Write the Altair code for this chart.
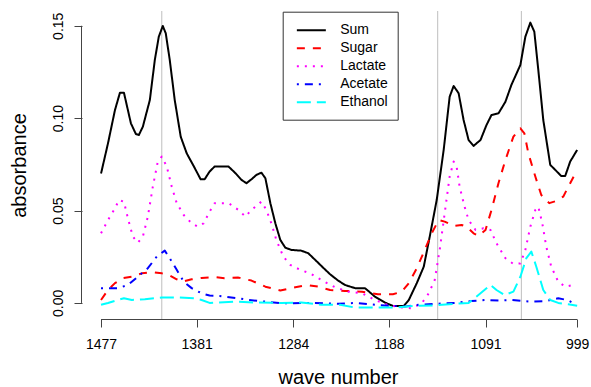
import altair as alt
import pandas as pd

# ---------------- data ----------------
series_names = ["Sum", "Sugar", "Lactate", "Acetate", "Ethanol"]
series_colors = ["#000000", "#FF0000", "#FF00FF", "#0000FF", "#00FFFF"]
series_dashes = [[1, 0], [8, 8], [2, 6], [2, 6, 8, 6], [14, 6]]

x_ticks = [1477, 1381, 1284, 1188, 1091, 999]
y_ticks = [0.00, 0.05, 0.10, 0.15]
marker_wn = [1416, 1139, 1055]

sum_wn = [1477, 1470, 1463, 1458, 1454, 1447, 1442, 1439, 1435, 1428, 1423, 1419,
          1415, 1412, 1408, 1403, 1397, 1391, 1384, 1377, 1373, 1368, 1363, 1358,
          1349, 1342, 1336, 1331, 1326, 1321, 1316, 1312, 1307, 1302, 1297, 1292,
          1286, 1276, 1269, 1262, 1255, 1247, 1239,
          1232, 1222, 1212, 1202, 1192, 1184, 1173, 1168, 1160, 1153, 1147, 1140,
          1133, 1127, 1123, 1118,
          1113, 1108, 1103, 1096, 1090, 1085, 1078, 1071, 1065, 1056, 1051, 1046,
          1042, 1038, 1033, 1026, 1021, 1015, 1011, 1006, 999]
sum_val = [0.0700, 0.0864, 0.1044, 0.1138, 0.1138, 0.0972, 0.0914, 0.0909, 0.0954, 0.1098, 0.1315, 0.1441,
           0.1499, 0.1459, 0.1315, 0.1098, 0.0900, 0.0810, 0.0741, 0.0669, 0.0669, 0.0711, 0.0738, 0.0738,
           0.0738, 0.0702, 0.0666, 0.0648, 0.0669, 0.0693, 0.0705, 0.0675, 0.0540, 0.0431, 0.0341, 0.0299,
           0.0287, 0.0283, 0.0269, 0.0233, 0.0196, 0.0155, 0.0121,
           0.0097, 0.0080, 0.0080, 0.0034, 0.0002, -0.0016, -0.0016, 0.0016, 0.0107, 0.0196, 0.0359, 0.0557,
           0.0828, 0.1116, 0.1174, 0.1135,
           0.0990, 0.0882, 0.0850, 0.0882, 0.0963, 0.1017, 0.1026, 0.1089, 0.1180, 0.1288, 0.1441, 0.1517,
           0.1468, 0.1261, 0.0990, 0.0747, 0.0720, 0.0687, 0.0687, 0.0765, 0.0828]

sugar_wn = [1477, 1470, 1463, 1455, 1446, 1436, 1426, 1416, 1409, 1401, 1395, 1386, 1376,
            1364, 1353, 1339, 1326, 1312, 1297, 1282, 1270, 1259, 1247, 1237, 1232,
            1215, 1199, 1184, 1175, 1168, 1160, 1152, 1145, 1138, 1132, 1123,
            1115, 1110, 1103, 1098, 1091, 1085, 1078, 1071, 1063, 1056, 1052, 1048, 1041,
            1035, 1027, 1020, 1013, 1006, 999]
sugar_val = [0.0016, 0.0070, 0.0107, 0.0134, 0.0142, 0.0160, 0.0166, 0.0160, 0.0152, 0.0128, 0.0115, 0.0128, 0.0135,
             0.0140, 0.0134, 0.0137, 0.0121, 0.0088, 0.0067, 0.0085, 0.0097, 0.0088, 0.0070, 0.0067, 0.0065,
             0.0061, 0.0047, 0.0047, 0.0061, 0.0107, 0.0188, 0.0287, 0.0377, 0.0449, 0.0440, 0.0417,
             0.0422, 0.0413, 0.0377, 0.0363, 0.0395, 0.0503, 0.0648, 0.0774, 0.0900, 0.0945, 0.0918, 0.0810, 0.0684,
             0.0584, 0.0540, 0.0552, 0.0575, 0.0648, 0.0720]

lactate_wn = [1477, 1470, 1463, 1459, 1454, 1450, 1445, 1440, 1435, 1430, 1425, 1420, 1416, 1411,
              1406, 1401, 1394, 1386, 1380, 1374, 1368, 1363,
              1349, 1339, 1332, 1326, 1316, 1311, 1306, 1301, 1294, 1287, 1277, 1267, 1259, 1250, 1242,
              1229, 1215, 1202, 1189, 1175, 1165, 1155, 1148, 1142, 1137, 1132, 1127, 1123,
              1120, 1117, 1112, 1108, 1101, 1093, 1086, 1080, 1071, 1063, 1056, 1051, 1046, 1041,
              1038, 1034, 1030, 1025, 1018, 1011, 1003]
lactate_val = [0.0377, 0.0449, 0.0512, 0.0557, 0.0548, 0.0458, 0.0359, 0.0326, 0.0359, 0.0467, 0.0629, 0.0765, 0.0792, 0.0738,
               0.0629, 0.0540, 0.0476, 0.0431, 0.0413, 0.0431, 0.0494, 0.0540,
               0.0540, 0.0503, 0.0467, 0.0503, 0.0548, 0.0503, 0.0431, 0.0341, 0.0251, 0.0206, 0.0179, 0.0160, 0.0134, 0.0107, 0.0085,
               0.0061, 0.0052, 0.0016, -0.0011, -0.0025, -0.0029, -0.0002, 0.0052, 0.0124, 0.0287, 0.0485, 0.0684, 0.0765,
               0.0738, 0.0629, 0.0521, 0.0449, 0.0395, 0.0404, 0.0395, 0.0323, 0.0242, 0.0211, 0.0214, 0.0287, 0.0413, 0.0503,
               0.0521, 0.0431, 0.0305, 0.0196, 0.0115, 0.0088, 0.0097]

acetate_wn = [1477, 1460, 1450, 1440, 1430, 1421, 1413, 1408, 1401, 1394,
              1386, 1376, 1368, 1358, 1339, 1329, 1312, 1296, 1262, 1239,
              1222, 1202, 1184, 1172, 1158, 1142, 1122, 1105, 1091, 1078,
              1065, 1045, 1031, 1018, 1009, 1003]
acetate_val = [0.0080, 0.0080, 0.0097, 0.0142, 0.0188, 0.0251, 0.0283, 0.0242, 0.0179, 0.0115,
               0.0080, 0.0052, 0.0040, 0.0038, 0.0025, 0.0016, 0.0007, -0.0002, 0.0000, -0.0005,
               0.0000, -0.0010, -0.0016, -0.0020, -0.0010, -0.0005, 0.0000, 0.0010, 0.0016, 0.0013,
               0.0016, 0.0007, 0.0010, 0.0025, 0.0016, 0.0000]

ethanol_wn = [1477, 1470, 1460, 1454, 1446, 1433, 1416, 1399, 1383, 1376,
              1368, 1342, 1322, 1296, 1276, 1256, 1237, 1222, 1182, 1162,
              1142, 1122, 1108, 1096, 1086, 1080, 1072, 1063, 1056, 1050,
              1045, 1040, 1033, 1026, 1018, 1008, 999]
ethanol_val = [-0.0010, 0.0000, 0.0016, 0.0025, 0.0016, 0.0020, 0.0029, 0.0029, 0.0025, 0.0016,
               0.0000, 0.0007, 0.0002, 0.0000, 0.0002, -0.0010, -0.0010, -0.0025, -0.0025, -0.0016,
               -0.0013, -0.0005, 0.0000, 0.0052, 0.0097, 0.0070, 0.0043, 0.0061, 0.0142, 0.0242,
               0.0278, 0.0196, 0.0070, 0.0016, 0.0000, -0.0007, -0.0015]

# ---------------- build tables ----------------
all_wn = [sum_wn, sugar_wn, lactate_wn, acetate_wn, ethanol_wn]
all_val = [sum_val, sugar_val, lactate_val, acetate_val, ethanol_val]
rows = []
for name, wns, vals in zip(series_names, all_wn, all_val):
    for w, v in zip(wns, vals):
        rows.append({"wn": w, "absorbance": v, "series": name})
df = pd.DataFrame(rows)
markers = pd.DataFrame({"wn": marker_wn})
xaxis_df = pd.DataFrame({"a": [x_ticks[0]], "b": [x_ticks[-1]]})
yaxis_df = pd.DataFrame({"a": [y_ticks[0]], "b": [y_ticks[-1]]})

# ---------------- layout ----------------
W, H = 509, 308
FONT = "Liberation Sans"
AXIS_COLOR = "#444444"
xs = alt.Scale(domain=[1496.1, 985.1], nice=False, zero=False)
ys = alt.Scale(domain=[-0.0087, 0.158], nice=False, zero=False)

legend = alt.Legend(
    title=None, orient="none", legendX=200.7, legendY=0.7,
    symbolType="M-0.6,0H3.4", symbolSize=210, symbolStrokeWidth=2,
    labelFont=FONT, labelFontSize=14, labelColor="black", labelOffset=30.5,
    labelLimit=200, padding=10, rowPadding=2,
    strokeColor="#333333", fillColor="white",
)

x_axis = alt.Axis(values=x_ticks, format="d", title="wave number", domain=False, grid=False,
                  tickSize=8, tickColor=AXIS_COLOR, labelFont=FONT, labelFontSize=14,
                  labelColor="black", labelPadding=10, labelFlush=False, labelOverlap=False,
                  titleFont=FONT, titleFontSize=20, titleFontWeight="normal", titleColor="black",
                  titleX=256, titleY=64, titleBaseline="alphabetic", titleAlign="center")
y_axis = alt.Axis(values=y_ticks, format=".2f", title="absorbance", domain=False, grid=False,
                  tickSize=8, tickColor=AXIS_COLOR, labelFont=FONT, labelFontSize=14,
                  labelColor="black", labelAngle=270, labelAlign="center", labelBaseline="alphabetic",
                  labelPadding=12, labelFlush=False, labelOverlap=False,
                  titleFont=FONT, titleFontSize=20, titleFontWeight="normal", titleColor="black",
                  titleX=-63, titleY=154, titleAngle=270, titleAlign="center", titleBaseline="middle")

vlines = alt.Chart(markers).mark_rule(color="#BEBEBE", strokeWidth=1).encode(
    x=alt.X("wn:Q", scale=xs, axis=x_axis)
)

lines = alt.Chart(df).mark_line(strokeWidth=2, strokeCap="butt", strokeJoin="round").encode(
    x=alt.X("wn:Q", scale=xs, axis=x_axis),
    y=alt.Y("absorbance:Q", scale=ys, axis=y_axis),
    color=alt.Color("series:N", scale=alt.Scale(domain=series_names, range=series_colors), legend=legend),
    strokeDash=alt.StrokeDash("series:N", scale=alt.Scale(domain=series_names, range=series_dashes), legend=legend),
)

x_line = alt.Chart(xaxis_df).mark_rule(color=AXIS_COLOR, strokeWidth=1).encode(
    x=alt.X("a:Q", scale=xs, axis=x_axis), x2="b:Q", y=alt.value(H + 0.5)
)
y_line = alt.Chart(yaxis_df).mark_rule(color=AXIS_COLOR, strokeWidth=1).encode(
    y=alt.Y("a:Q", scale=ys, axis=y_axis), y2="b:Q", x=alt.value(-0.5)
)

chart = alt.layer(vlines, lines, x_line, y_line).properties(
    width=W, height=H,
    autosize=alt.AutoSizeParams(type="none"),
    padding={"left": 82, "top": 11, "right": 0, "bottom": 68},
    background="white",
).configure_view(stroke=None)

chart.save("out.html", embed_options={"renderer": "svg", "actions": False})
